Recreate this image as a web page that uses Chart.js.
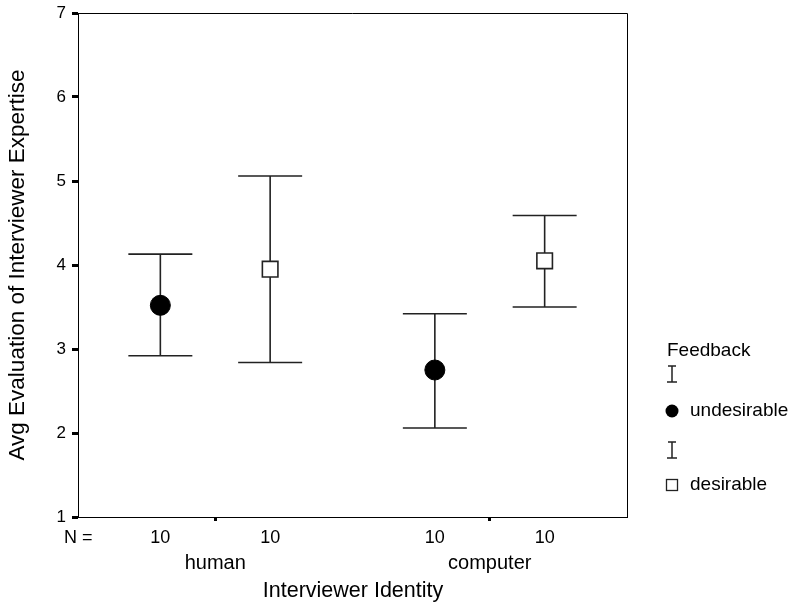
<!DOCTYPE html>
<html>
<head>
<meta charset="utf-8">
<script src="https://cdn.jsdelivr.net/npm/chart.js@4.4.0/dist/chart.umd.min.js"></script>
<style>
  html, body { margin: 0; padding: 0; background: #fff; }
</style>
</head>
<body>
<canvas id="c" width="799" height="609"></canvas>
<script>
// values
const groups = ['human', 'computer'];
const feedbackLevels = ['undesirable', 'desirable'];
const meanUndesirable = [3.52, 2.75];
const lowUndesirable = [2.92, 2.06];
const highUndesirable = [4.13, 3.42];
const meanDesirable = [3.95, 4.05];
const lowDesirable = [2.84, 3.50];
const highDesirable = [5.06, 4.59];
const nUndesirable = [10, 10];
const nDesirable = [10, 10];
const yTicks = [1, 2, 3, 4, 5, 6, 7];

const FONT = "'Liberation Sans', Arial, sans-serif";
Chart.defaults.font.family = FONT;
Chart.defaults.color = '#000';

const shift = 0.2; // dodge within a group
function points(means, lows, highs, ns, dir) {
  return groups.map((g, i) => ({ x: i + 1 + dir * shift, y: means[i], lo: lows[i], hi: highs[i], n: ns[i] }));
}

// error bars drawn under the markers
const errorBars = {
  id: 'errorBars',
  beforeDatasetsDraw(chart) {
    const { ctx, scales: { x, y } } = chart;
    ctx.save();
    ctx.strokeStyle = '#222';
    ctx.lineWidth = 1.6;
    chart.data.datasets.forEach(ds => {
      ds.data.forEach(p => {
        const px = x.getPixelForValue(p.x);
        const top = y.getPixelForValue(p.hi), bot = y.getPixelForValue(p.lo);
        ctx.beginPath();
        ctx.moveTo(px, top); ctx.lineTo(px, bot);
        ctx.moveTo(px - 32, top); ctx.lineTo(px + 32, top);
        ctx.moveTo(px - 32, bot); ctx.lineTo(px + 32, bot);
        ctx.stroke();
      });
    });
    ctx.restore();
  }
};

// frame, N row, group names, axis titles and the legend
const annotations = {
  id: 'annotations',
  afterDraw(chart) {
    const { ctx, chartArea: a, scales: { x, y } } = chart;
    ctx.save();
    ctx.strokeStyle = '#000';
    ctx.lineWidth = 1;
    ctx.beginPath();
    ctx.moveTo(a.left, a.top + 0.5); ctx.lineTo(a.right + 0.5, a.top + 0.5);
    ctx.lineTo(a.right + 0.5, a.bottom);
    ctx.stroke();

    ctx.fillStyle = '#000';
    ctx.textBaseline = 'middle';
    ctx.font = '18px ' + FONT;
    ctx.textAlign = 'left';
    ctx.fillText('N =', 64, 538);
    ctx.textAlign = 'center';
    chart.data.datasets.forEach(ds => {
      ds.data.forEach(p => ctx.fillText(String(p.n), x.getPixelForValue(p.x), 538));
    });
    ctx.font = '20px ' + FONT;
    groups.forEach((g, i) => ctx.fillText(g, x.getPixelForValue(i + 1), 563));

    ctx.font = '21.5px ' + FONT;
    ctx.fillText('Interviewer Identity', 353, 591);
    ctx.save();
    ctx.font = '22.5px ' + FONT;
    ctx.translate(18, (a.top + a.bottom) / 2);
    ctx.rotate(-Math.PI / 2);
    ctx.fillText('Avg Evaluation of Interviewer Expertise', 0, 0);
    ctx.restore();

    // legend
    ctx.textAlign = 'left';
    ctx.font = '19px ' + FONT;
    ctx.fillText('Feedback', 667, 351);
    const rows = [{ bar: 374, mark: 411 }, { bar: 450, mark: 485 }];
    rows.forEach((r, i) => {
      ctx.strokeStyle = '#222';
      ctx.lineWidth = 1.5;
      ctx.beginPath();
      ctx.moveTo(672, r.bar - 8); ctx.lineTo(672, r.bar + 8);
      ctx.moveTo(668, r.bar - 8); ctx.lineTo(676, r.bar - 8);
      ctx.moveTo(667, r.bar + 8); ctx.lineTo(677, r.bar + 8);
      ctx.stroke();
      if (i === 0) {
        ctx.beginPath();
        ctx.arc(672, r.mark, 6.5, 0, Math.PI * 2);
        ctx.fill();
      } else {
        ctx.lineWidth = 1.3;
        ctx.strokeRect(666.5, r.mark - 5.5, 11, 11);
      }
      ctx.fillText(feedbackLevels[i], 690, r.mark);
    });
    ctx.restore();
  }
};

new Chart(document.getElementById('c'), {
  type: 'scatter',
  data: {
    datasets: [
      {
        label: feedbackLevels[0],
        data: points(meanUndesirable, lowUndesirable, highUndesirable, nUndesirable, -1),
        pointStyle: 'circle',
        pointRadius: 10,
        backgroundColor: '#000',
        borderColor: '#000',
        borderWidth: 1
      },
      {
        label: feedbackLevels[1],
        data: points(meanDesirable, lowDesirable, highDesirable, nDesirable, 1),
        pointStyle: 'rect',
        pointRadius: 11,
        backgroundColor: '#fff',
        borderColor: '#222',
        borderWidth: 1.6
      }
    ]
  },
  options: {
    responsive: false,
    animation: false,
    layout: { padding: { top: 13, right: 172, left: 0, bottom: 0 } },
    plugins: { legend: { display: false }, tooltip: { enabled: false } },
    scales: {
      x: {
        type: 'linear',
        min: 0.5,
        max: 2.5,
        afterBuildTicks: s => { s.ticks = groups.map((g, i) => ({ value: i + 1 })); },
        afterFit: s => { s.height = 92; s.paddingLeft = 0; s.paddingRight = 0; },
        ticks: { display: false },
        grid: { drawOnChartArea: false, drawTicks: true, tickLength: 4, tickWidth: 3, tickColor: '#000' },
        border: { color: '#000', width: 1 }
      },
      y: {
        type: 'linear',
        min: yTicks[0],
        max: yTicks[yTicks.length - 1],
        afterBuildTicks: s => { s.ticks = yTicks.map(v => ({ value: v })); },
        afterFit: s => { s.width = 78; s.paddingTop = 0; s.paddingBottom = 0; },
        ticks: { font: { size: 17 }, color: '#000', padding: 6 },
        grid: { drawOnChartArea: false, drawTicks: true, tickLength: 6, tickWidth: 3, tickColor: '#000' },
        border: { color: '#000', width: 1 }
      }
    }
  },
  plugins: [errorBars, annotations]
});
</script>
</body>
</html>
